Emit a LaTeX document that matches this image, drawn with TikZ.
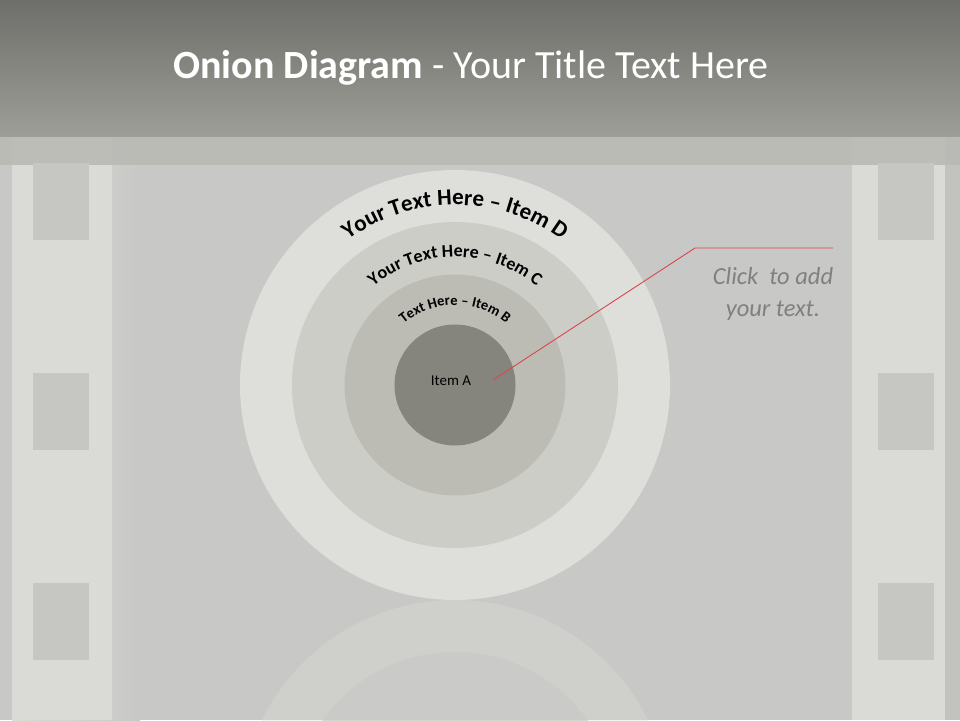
\documentclass[tikz,border=0pt]{standalone}
\usepackage{fontspec}
\setmainfont{Carlito}
\usetikzlibrary{decorations.text}
\definecolor{bgc}{HTML}{C8C9C6}
\definecolor{stripc}{HTML}{DADBD7}
\definecolor{edgec}{HTML}{C2C3BF}
\definecolor{ringD}{HTML}{DEDEDA}
\definecolor{ringC}{HTML}{CDCDC8}
\definecolor{ringB}{HTML}{BCBCB5}
\definecolor{ringA}{HTML}{85857D}
\definecolor{titletop}{HTML}{6E6F6A}
\definecolor{titlebot}{HTML}{9D9E97}
\definecolor{bandc}{HTML}{B9BAB4}
\definecolor{sqc}{HTML}{C6C7C3}
\definecolor{redline}{HTML}{D9464B}
\definecolor{hintc}{HTML}{808080}
\tikzset{
  sq/.style={fill=sqc, draw=none},
  arctext/.style={decorate, decoration={text along path, text align=center, text color=black}},
}
\begin{document}
\begin{tikzpicture}[x=1pt,y=1pt]
\useasboundingbox (0,0) rectangle (960,720);
% background
\fill[bgc] (0,0) rectangle (960,720);
% film strips
\shade[left color=stripc, right color=bgc] (12,0) rectangle (140,583);
\fill[stripc] (12,0) rectangle (112,583);
\fill[stripc] (852,0) rectangle (945,583);
\fill[edgec] (945,0) rectangle (960,583);
% top band
\fill[bandc, opacity=0.9] (0,555) rectangle (960,583);
% squares
\foreach \yy in {163,373,583}{
  \fill[sq] (33,720-\yy) rectangle (89,720-\yy-77);
  \fill[sq] (878,720-\yy) rectangle (934,720-\yy-77);
}
% title bar
\shade[top color=titletop, bottom color=titlebot] (0,583) rectangle (960,720);
\node[text=white, font=\fontsize{40}{44}\selectfont, anchor=center] (title) at (471,652) {\textbf{Onion Diagram} - Your Title Text Here};
% reflection
\begin{scope}
  \clip (0,0) rectangle (960,120);
  \fill[ringD, opacity=0.35] (455,-95) circle[radius=215];
  \fill[bgc, opacity=0.6] (455,-95) circle[radius=163];
  \fill[ringC, opacity=0.3] (455,-95) circle[radius=163];
\end{scope}
% onion
\fill[ringD] (455,335) circle[radius=215];
\fill[ringC] (455,335) circle[radius=163];
\fill[ringB] (455,335) circle[radius=110.5];
\fill[ringA] (455,335) circle[radius=60.5];
% curved texts
\path[arctext, decoration={text={|\fontsize{23}{23}\selectfont\bfseries|Your Text Here – Item D}}]
  (455,335) ++(170:180) arc[start angle=170, end angle=10, radius=180];
\path[arctext, decoration={text={|\fontsize{18}{18}\selectfont\bfseries|Your Text Here – Item C}}]
  (455,335) ++(170:128) arc[start angle=170, end angle=10, radius=128];
\path[arctext, decoration={text={|\fontsize{14.5}{14.5}\selectfont\bfseries|Text Here – Item B}}]
  (455,335) ++(170:80) arc[start angle=170, end angle=10, radius=80];
\node[font=\fontsize{15}{18}\selectfont, text=black] (itemA) at (451,339) {Item A};
% callout
\node[text=hintc, font=\itshape\fontsize{24.5}{32}\selectfont, align=center] (hint) at (773,426) {Click\ \ to add\\your text.};
\coordinate (pA) at (493,340);
\coordinate (bend) at (695,472);
\coordinate (tip) at (833,472);
\draw[redline, line width=0.9pt] (pA) -- (bend) -- (tip);
\end{tikzpicture}
\end{document}
